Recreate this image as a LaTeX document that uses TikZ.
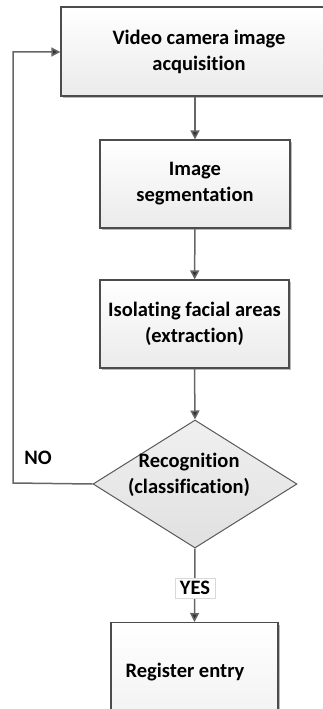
\documentclass[tikz,border=0pt]{standalone}
\usepackage{fontspec}
\setmainfont{Carlito}[Ligatures=NoCommon]
\usetikzlibrary{shapes.geometric,arrows.meta,shadows,positioning}
\begin{document}
\begin{tikzpicture}[x=1pt,y=-1pt,
  every node/.style={font=\fontsize{20.5}{26}\selectfont\bfseries, text=black, align=center},
  procbox/.style={draw=black!70, line width=1.2pt, top color=white, bottom color=black!8,
    drop shadow={shadow xshift=2pt, shadow yshift=-2pt, fill=black!45, opacity=0.6},
    inner sep=0pt},
  decision/.style={draw=black!65, line width=1pt, top color=black!6, bottom color=black!12,
    diamond, aspect=1.5, inner sep=0pt},
  flow/.style={draw=black!60, line width=1.5pt, -{Triangle[length=9pt,width=9pt,fill=black!80]}},
  tag/.style={fill=white, draw=black!15, line width=0.5pt, inner xsep=5pt, inner ysep=3pt}
]
\useasboundingbox (0,0) rectangle (322,709);

% process steps
\node[procbox, minimum width=276pt, minimum height=89pt] (acq) at (199,51.5)
  {Video camera image\\acquisition};
\node[procbox, minimum width=190pt, minimum height=88pt] (seg) at (195,184)
  {Image\\segmentation};
\node[procbox, minimum width=189pt, minimum height=88pt] (iso) at (194.5,324)
  {Isolating facial areas\\(extraction)};
\node[decision, minimum width=204pt, minimum height=128pt] (rec) at (195,484) {};
\node (rectext) at (189,475) {Recognition\\(classification)};
\node[procbox, minimum width=167pt, minimum height=150pt, anchor=north] (reg) at (194.5,622) {};
\node (regtext) at (185,672) {Register entry};

% connectors
\coordinate (loopL) at (13,483);
\coordinate (loopT) at (13,52);
\draw[flow] (acq.south -| seg.north) -- (seg.north);
\draw[flow] (seg) -- (iso);
\draw[flow] (iso.south) -- (rec.north);
\draw[flow] (rec.west) -- (loopL) -- (loopT) -- (loopT -| acq.west);
\draw[flow] (rec.south) -- (reg.north);

% branch labels
\node (no) at (38,458) {NO};
\node[tag] (yes) at (195,588) {YES};
\end{tikzpicture}
\end{document}
